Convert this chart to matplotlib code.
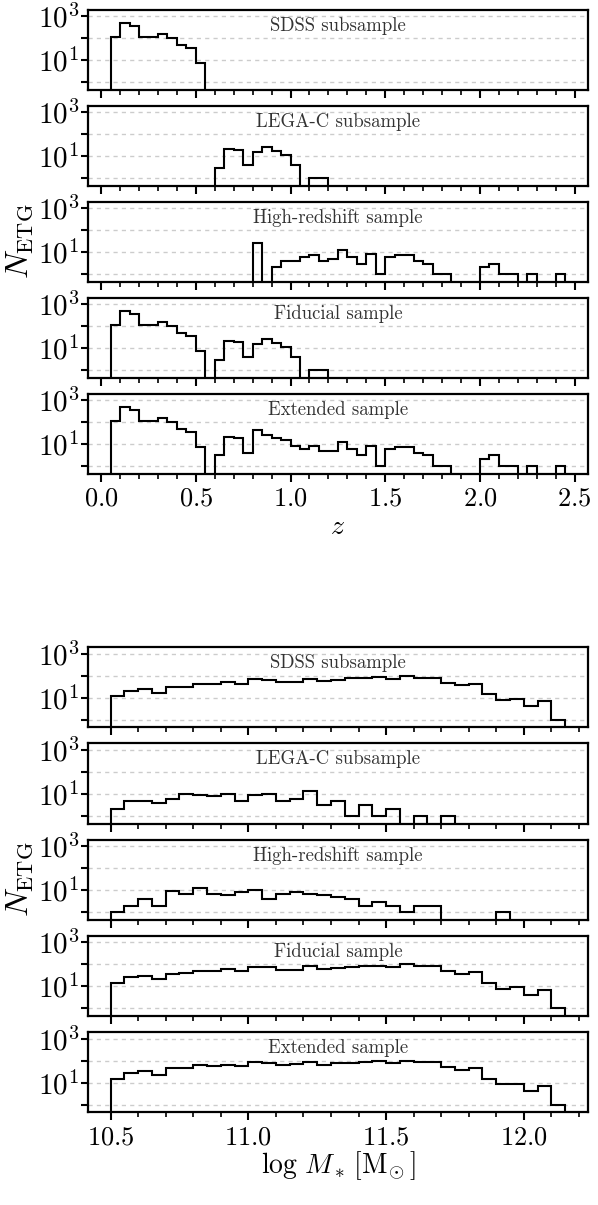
import numpy as np
import matplotlib
matplotlib.use("Agg")
import matplotlib.pyplot as plt
from matplotlib.ticker import FixedLocator, MultipleLocator, NullLocator

plt.rcParams["font.family"] = ["cmr10"]
plt.rcParams["mathtext.fontset"] = "cm"
plt.rcParams["axes.formatter.use_mathtext"] = True

# --- redshift histograms (bins of 0.05 from 0.05 to 2.45) ---
z_edges = np.round(np.arange(0.05, 2.4501, 0.05), 2)

z_sdss = [115, 480, 345, 115, 115, 152, 100, 47, 37, 7] + [0] * 38
z_legac = [0] * 10 + [0, 3, 22, 18, 4, 16, 27, 17, 11, 4, 0, 1, 1] + [0] * 25
z_highz = [0] * 15 + [27, 0, 2, 4, 4, 6, 7, 4, 5, 12, 6, 3, 8, 1, 6, 7, 7,
                      4, 3, 1, 1, 0, 0, 0, 2, 3, 1, 1, 0, 1, 0, 0, 1]
z_fid = [115, 480, 345, 115, 115, 152, 100, 47, 37, 7,
         0, 3, 22, 18, 4, 16, 27, 17, 11, 4, 0, 1, 1] + [0] * 25
z_ext = [115, 480, 345, 115, 115, 152, 100, 47, 37, 7,
         0, 3, 22, 18, 4, 43, 27, 19, 15, 8, 6, 8, 5, 5, 12, 6, 3, 8, 1,
         6, 7, 7, 4, 3, 1, 1, 0, 0, 0, 2, 3, 1, 1, 0, 1, 0, 0, 1]

# --- stellar mass histograms (bins of 0.05 from 10.5 to 12.15) ---
m_edges = np.round(np.arange(10.5, 12.1501, 0.05), 2)

m_sdss = [12, 21, 25, 17, 30, 30, 42, 40, 50, 44, 70, 66, 49, 52, 70, 56, 66,
          77, 82, 88, 72, 100, 80, 82, 48, 38, 44, 14, 8, 9, 4, 7, 1]
m_legac = [2, 5, 5, 4, 6, 10, 9, 8, 10, 5, 9, 10, 5, 6, 13, 3, 5,
           1, 3, 1, 2, 0, 1, 0, 1, 0, 0, 0, 0, 0, 0, 0, 0]
m_highz = [1, 2, 4, 2, 9, 7, 13, 7, 6, 8, 10, 4, 7, 8, 7, 6, 5,
           4, 2, 3, 2, 1, 2, 2, 0, 0, 0, 0, 1, 0, 0, 0, 0]
m_fid = [14, 26, 30, 21, 36, 40, 51, 48, 60, 49, 79, 76, 54, 58, 83, 59, 71,
         78, 85, 89, 74, 100, 81, 82, 49, 38, 44, 14, 8, 9, 4, 7, 1]
m_ext = [15, 28, 34, 23, 45, 47, 64, 55, 66, 58, 89, 80, 61, 67, 90, 65, 76,
         82, 87, 92, 76, 101, 83, 84, 49, 38, 44, 14, 9, 9, 4, 7, 1]

labels = ["SDSS subsample", "LEGA-C subsample", "High-redshift sample",
          "Fiducial sample", "Extended sample"]
z_sets = [z_sdss, z_legac, z_highz, z_fid, z_ext]
m_sets = [m_sdss, m_legac, m_highz, m_fid, m_ext]


def style_panel(ax, label):
    ax.set_yscale("log")
    ax.set_ylim(0.45, 2000)
    ax.yaxis.set_major_locator(FixedLocator([1, 10, 100, 1000]))
    ax.yaxis.set_minor_locator(NullLocator())
    ax.set_yticklabels(["", r"$10^1$", "", r"$10^3$"])
    ax.grid(True, axis="y", color="#cccccc", ls=(0, (3, 3)), lw=1.0)
    ax.set_axisbelow(True)
    ax.tick_params(axis="y", which="major", direction="out", length=5,
                   width=1.5, labelsize=21, pad=1)
    ax.tick_params(axis="x", which="major", direction="out", length=6,
                   width=1.5, labelsize=19)
    ax.tick_params(axis="x", which="minor", direction="out", length=3.5,
                   width=1.2)
    for sp in ax.spines.values():
        sp.set_linewidth(1.6)
    ax.text(0.5, 0.8, label, transform=ax.transAxes, ha="center",
            va="center", fontsize=13.5, color="#333333")


fig = plt.figure(figsize=(5.98, 12.05), dpi=100)

gs_z = fig.add_gridspec(5, 1, left=0.147, right=0.983, top=0.992,
                        bottom=0.607, hspace=0.2)
gs_m = fig.add_gridspec(5, 1, left=0.147, right=0.983, top=0.463,
                        bottom=0.077, hspace=0.2)

ax_prev = None
for i in range(5):
    ax = fig.add_subplot(gs_z[i], sharex=ax_prev)
    ax.stairs(z_sets[i], z_edges, color="k", lw=1.5)
    style_panel(ax, labels[i])
    ax.xaxis.set_major_locator(MultipleLocator(0.5))
    ax.xaxis.set_minor_locator(MultipleLocator(0.1))
    if i < 4:
        ax.tick_params(axis="x", labelbottom=False)
    if i == 2:
        ax.set_ylabel(r"$N_\mathrm{ETG}$", fontsize=23, labelpad=2)
    ax_prev = ax
ax_prev.set_xlabel(r"$z$", fontsize=20, labelpad=2)

ax_prev = None
for i in range(5):
    ax = fig.add_subplot(gs_m[i], sharex=ax_prev)
    ax.stairs(m_sets[i], m_edges, color="k", lw=1.5)
    style_panel(ax, labels[i])
    ax.xaxis.set_major_locator(MultipleLocator(0.5))
    ax.xaxis.set_minor_locator(MultipleLocator(0.1))
    if i < 4:
        ax.tick_params(axis="x", labelbottom=False)
    if i == 2:
        ax.set_ylabel(r"$N_\mathrm{ETG}$", fontsize=23, labelpad=2)
    ax_prev = ax
ax_prev.set_xlabel(r"$\log\,M_*\,[\mathrm{M}_{\!\odot}]$", fontsize=20,
                   labelpad=0)

fig.savefig("out.png", dpi=100, facecolor="white")
